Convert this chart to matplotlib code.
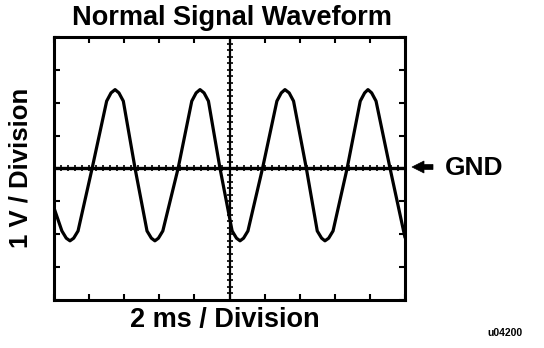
import matplotlib
matplotlib.use("Agg")
import matplotlib.pyplot as plt
import numpy as np
from matplotlib.patches import Polygon

# Data (time in ms, voltage in V)
time_ms = [0.0, 0.45, 0.7, 0.91, 1.12, 1.37, 2.17, 3.0, 3.25, 3.48, 3.7, 3.95,
           4.62, 5.3, 5.55, 5.75, 5.95, 6.2, 7.07, 7.85, 8.1, 8.32, 8.55, 8.8,
           9.46, 10.15, 10.4, 10.6, 10.8, 11.05, 11.88, 12.7, 12.95, 13.16, 13.4,
           13.65, 14.38, 15.0, 15.25, 15.44, 15.65, 15.9, 16.7, 17.45, 17.7, 17.89,
           18.1, 18.35, 19.15, 20.0]
volts = [-1.2, -1.9, -2.12, -2.2, -2.12, -1.9, 0.0, 2.05, 2.3, 2.4, 2.3, 2.05,
         0.0, -1.9, -2.12, -2.2, -2.12, -1.9, 0.0, 2.05, 2.3, 2.4, 2.3, 2.05,
         0.0, -1.9, -2.12, -2.2, -2.12, -1.9, 0.0, 2.05, 2.3, 2.4, 2.3,
         2.05, 0.0, -1.9, -2.12, -2.2, -2.12, -1.9, 0.0, 2.05, 2.3, 2.4,
         2.3, 2.05, 0.0, -2.1]

title = "Normal Signal Waveform"
x_label = "2 ms / Division"
y_label = "1 V / Division"
gnd_label = "GND"
code_label = "u04200"

W, H = 544, 348
fig = plt.figure(figsize=(W / 100, H / 100), dpi=100)
fig.patch.set_facecolor("white")

def fx(px):
    return px / W

def fy(py):
    return 1 - py / H

L, R, T, B = 54, 405, 37, 300
ax = fig.add_axes([fx(L), fy(B), fx(R) - fx(L), fy(T) - fy(B)])
ax.set_xlim(0, 20)
ax.set_ylim(-4, 4)
for s in ax.spines.values():
    s.set_linewidth(2.2)
    s.set_color("black")

ax.set_xticks(np.arange(0, 21, 2))
ax.set_yticks(np.arange(-4, 5, 1))
ax.tick_params(direction="in", length=4, width=1.5, top=True, right=True,
               labelleft=False, labelbottom=False, colors="black")

# crosshair
ax.axhline(0, color="black", lw=2.4, zorder=2)
ax.axvline(10, color="black", lw=1.6, zorder=2)
minor_t = np.arange(0.4, 20, 0.4)
minor_v = np.arange(-3.8, 4, 0.2)
ax.plot(minor_t, np.zeros_like(minor_t), ls="none", marker="|", ms=4.5,
        mew=1.2, color="black", zorder=2)
ax.plot(np.full_like(minor_v, 10), minor_v, ls="none", marker="_", ms=4.5,
        mew=1.2, color="black", zorder=2)

# waveform
ax.plot(time_ms, volts, color="black", lw=2.3, solid_joinstyle="round",
        solid_capstyle="round", zorder=3, clip_on=True)

font = ["Liberation Sans", "DejaVu Sans"]
fig.text(fx(232), fy(18), title, ha="center", va="center", fontsize=19.5,
         family=font, weight="bold")
fig.text(fx(225), fy(320), x_label, ha="center", va="center", fontsize=19.5,
         family=font, weight="bold")
fig.text(fx(21), fy(168), y_label, ha="center", va="center", fontsize=18.5,
         family=font, weight="bold", rotation=90)
fig.text(fx(445), fy(168), gnd_label, ha="left", va="center", fontsize=19,
         family=font, weight="bold")
fig.text(fx(505), fy(333), code_label, ha="center", va="center", fontsize=7.5,
         family=font, weight="bold")

# arrow pointing to GND line
arrow_px = [(412, 167), (424, 161), (424, 164.5), (433, 164.5),
            (433, 169.5), (424, 169.5), (424, 173)]
fig.patches.append(Polygon([(fx(x), fy(y)) for x, y in arrow_px], closed=True,
                           transform=fig.transFigure, facecolor="black",
                           edgecolor="black", lw=0.5))

fig.savefig("out.png", dpi=100, facecolor="white")
